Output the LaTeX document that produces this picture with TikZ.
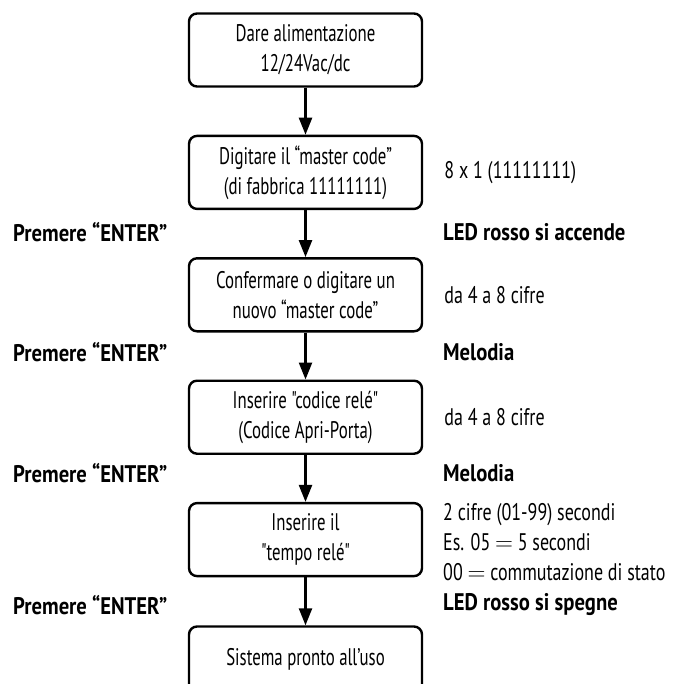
\documentclass[tikz,border=0pt]{standalone}
\usepackage{fontspec}
\setmainfont{PT Sans}[FakeStretch=0.7, Ligatures=TeXOff]
\newfontfamily\notefont{PT Sans}[FakeStretch=0.75, Ligatures=TeXOff]
\newfontfamily\keyfont{PT Sans}[FakeStretch=0.86, Ligatures=TeXOff]
\usetikzlibrary{arrows.meta,positioning}

\begin{document}
\begin{tikzpicture}[
  x=1pt, y=-1pt,
  >={Triangle[length=17pt,width=13pt]},
  every node/.style={font=\fontsize{24}{30}\selectfont, inner sep=0pt},
  stepbox/.style={draw, line width=2.4pt, rounded corners=8pt,
                  minimum width=233pt, minimum height=73pt, align=center},
  note/.style={anchor=west, align=left, font=\fontsize{24}{30}\selectfont\notefont},
  key/.style={anchor=west, font=\fontsize{24}{30}\selectfont\keyfont\bfseries}
]
  \useasboundingbox (0,0) rectangle (678,684);

  % main column
  \node[stepbox] (power) at (305.5,50) {Dare alimentazione\\12/24Vac/dc};
  \node[stepbox, below=47pt of power] (master) {Digitare il “master code”\\(di fabbrica 11111111)};
  \node[stepbox, below=47pt of master] (confirm) {Confermare o digitare un\\nuovo “master code”};
  \node[stepbox, below=47pt of confirm] (relay) {Inserire "codice relé"\\(Codice Apri-Porta)};
  \node[stepbox, below=47pt of relay] (time) {Inserire il\\"tempo relé"};
  \node[stepbox, below=48pt of time, minimum height=66pt] (ready) {Sistema pronto all’uso};

  \draw[->, line width=2.4pt] (power) -- (master);
  \draw[->, line width=2.4pt] (master) -- (confirm);
  \draw[->, line width=2.4pt] (confirm) -- (relay);
  \draw[->, line width=2.4pt] (relay) -- (time);
  \draw[->, line width=2.4pt] (time) -- (ready);

  % notes on the right
  \node[note, right=21pt of master] (n1) {8 x 1 (11111111)};
  \node[note, right=21pt of confirm] (n2) {da 4 a 8 cifre};
  \node[note, right=21pt of relay] (n3) {da 4 a 8 cifre};
  \node[note] (n4) at (443,542)
    {2 cifre (01-99) secondi\\Es. 05 $=$ 5 secondi\\00 $=$ commutazione di stato};

  % key presses and feedback
  \node[key] (k1) at (13,232) {Premere “ENTER”};
  \node[key] (k2) at (13,352) {Premere “ENTER”};
  \node[key] (k3) at (13,473) {Premere “ENTER”};
  \node[key] (k4) at (13,605) {Premere “ENTER”};
  \node[key] (f1) at (443,232) {LED rosso si accende};
  \node[key] (f2) at (443,352) {Melodia};
  \node[key] (f3) at (443,473) {Melodia};
  \node[key] (f4) at (443,605) {LED rosso si spegne};
\end{tikzpicture}
\end{document}
